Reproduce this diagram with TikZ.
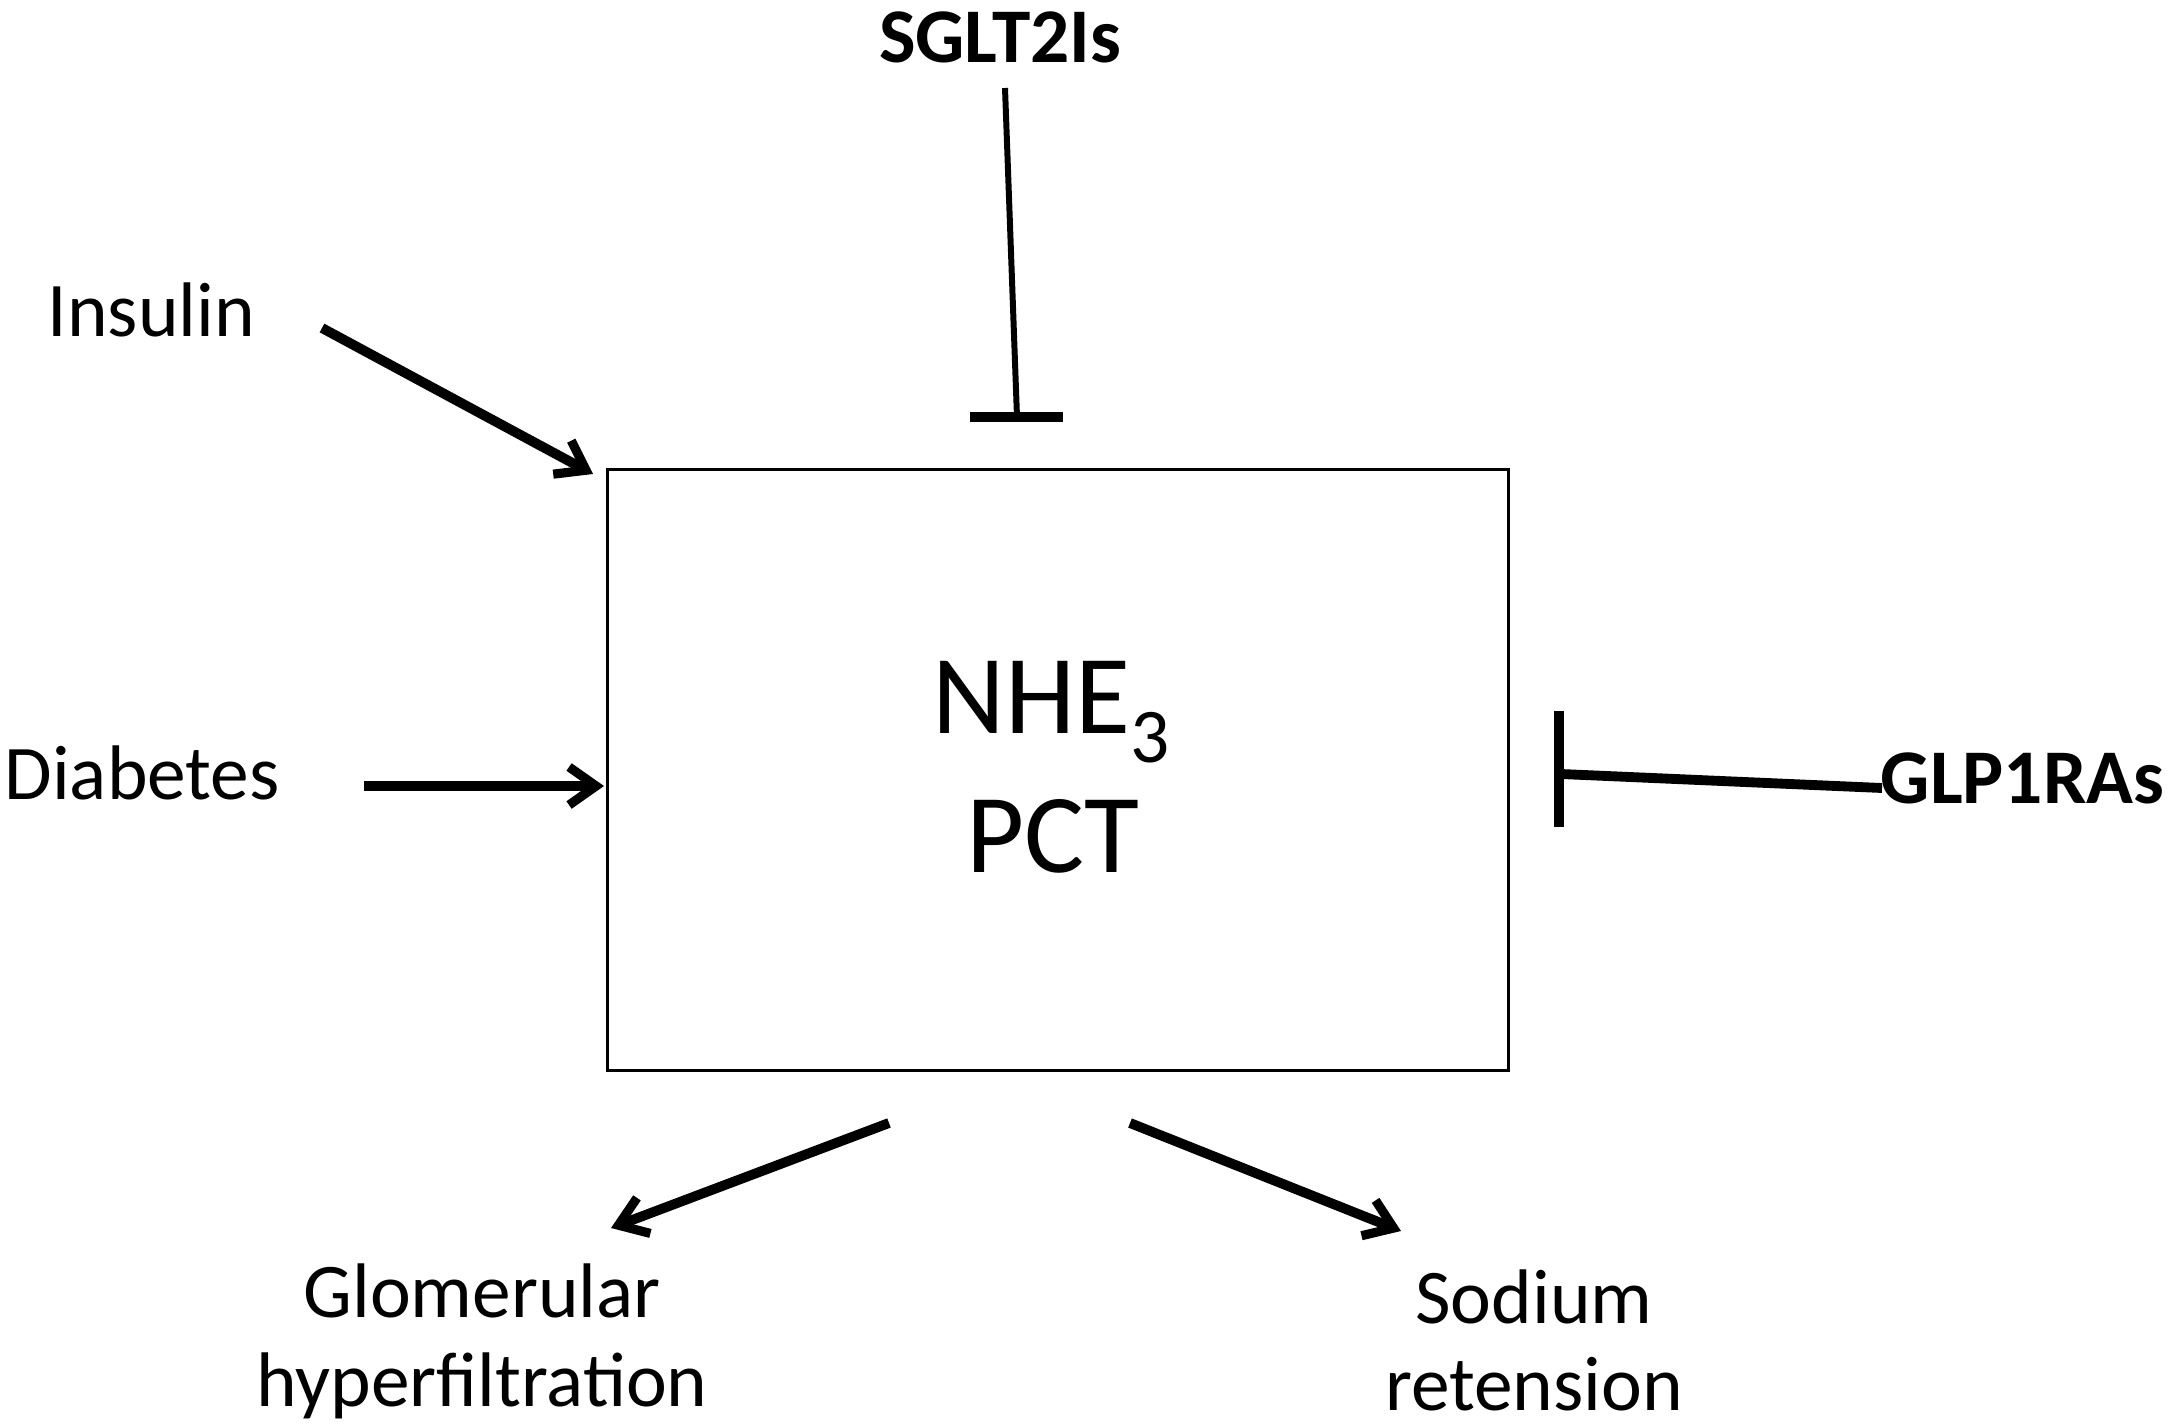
\documentclass[tikz,border=0pt]{standalone}
\usepackage{fontspec}
\setmainfont{Carlito}
\usetikzlibrary{arrows.meta}
\begin{document}
\begin{tikzpicture}[x=0.01cm,y=-0.01cm,
  lbl/.style={font=\fontsize{22}{26}\selectfont, inner sep=0pt},
  blbl/.style={font=\fontsize{22}{26}\selectfont\bfseries, inner sep=0pt},
  big/.style={font=\fontsize{32}{36}\selectfont, inner sep=0pt},
  act/.style={line width=2.8pt, -{Straight Barb[length=0.27cm,width=0.38cm,line width=2.6pt]}},
  inhline/.style={line width=1.7pt},
  inhbar/.style={line width=2.8pt},
  boxstyle/.style={draw, line width=0.8pt, minimum width=9.01cm, minimum height=6cm, inner sep=0pt}]
\useasboundingbox (0,0) rectangle (2172,1424);
% labels
\node[blbl, anchor=base] (sglt) at (1000,62) {SGLT2Is};
\node[lbl, anchor=base west] (ins) at (47,336) {Insulin};
\node[lbl, anchor=base west] (dia) at (4,799) {Diabetes};
\node[blbl, anchor=base west] (glp) at (1880,803) {GLP1RAs};
\node[lbl, anchor=base] (glo1) at (482,1317) {Glomerular};
\node[lbl, anchor=base] (glo2) at (482,1406) {hyperfiltration};
\node[lbl, anchor=base] (sod1) at (1534,1323) {Sodium};
\node[lbl, anchor=base] (sod2) at (1534,1410) {retension};
% box
\node[boxstyle] (box) at (1058,770) {};
\node[big, anchor=base] (nhe) at (1051,733) {NHE\raisebox{-0.29cm}{\fontsize{22}{22}\selectfont 3}};
\node[big, anchor=base] (pct) at (1053,872) {PCT};
% coordinates
\coordinate (s1) at (1005,88);
\coordinate (s2) at (1017,417);
\coordinate (sb1) at (970,417);
\coordinate (sb2) at (1063,417);
\coordinate (i1) at (322,328);
\coordinate (i2) at (593,474);
\coordinate (d1) at (364,786);
\coordinate (d2) at (604,786);
\coordinate (g1) at (1882,788);
\coordinate (g2) at (1561,774);
\coordinate (gb1) at (1559,711);
\coordinate (gb2) at (1559,827);
\coordinate (l1) at (889,1123);
\coordinate (l2) at (611,1228);
\coordinate (r1) at (1130,1123);
\coordinate (r2) at (1401,1231);
% connectors
\draw[inhline] (s1) -- (s2);
\draw[inhbar] (sb1) -- (sb2);
\draw[act] (i1) -- (i2);
\draw[act] (d1) -- (d2);
\draw[line width=2.8pt] (g1) -- (g2);
\draw[inhbar] (gb1) -- (gb2);
\draw[act] (l1) -- (l2);
\draw[act] (r1) -- (r2);
\end{tikzpicture}
\end{document}
